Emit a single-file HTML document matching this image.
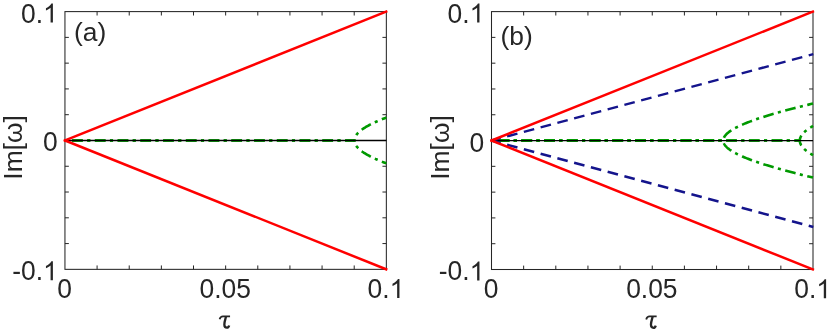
<!DOCTYPE html>
<html><head><meta charset="utf-8"><style>
html,body{margin:0;padding:0;background:#fff;}
svg{display:block;will-change:transform;}
text{font-family:"Liberation Sans",sans-serif;font-size:26.4px;fill:#262626;}
</style></head><body>
<svg width="831" height="331" viewBox="0 0 831 331">
<rect width="831" height="331" fill="#fff"/>
<rect x="64.95" y="11.6" width="321.40000000000003" height="257.75" fill="none" stroke="#262626" stroke-width="1.05"/>
<line x1="97.09" y1="269.35" x2="97.09" y2="265.45000000000005" stroke="#262626" stroke-width="1"/>
<line x1="97.09" y1="11.6" x2="97.09" y2="15.5" stroke="#262626" stroke-width="1"/>
<line x1="64.95" y1="37.38" x2="68.85000000000001" y2="37.38" stroke="#262626" stroke-width="1"/>
<line x1="386.35" y1="37.38" x2="382.45000000000005" y2="37.38" stroke="#262626" stroke-width="1"/>
<line x1="129.23" y1="269.35" x2="129.23" y2="265.45000000000005" stroke="#262626" stroke-width="1"/>
<line x1="129.23" y1="11.6" x2="129.23" y2="15.5" stroke="#262626" stroke-width="1"/>
<line x1="64.95" y1="63.15" x2="68.85000000000001" y2="63.15" stroke="#262626" stroke-width="1"/>
<line x1="386.35" y1="63.15" x2="382.45000000000005" y2="63.15" stroke="#262626" stroke-width="1"/>
<line x1="161.37" y1="269.35" x2="161.37" y2="265.45000000000005" stroke="#262626" stroke-width="1"/>
<line x1="161.37" y1="11.6" x2="161.37" y2="15.5" stroke="#262626" stroke-width="1"/>
<line x1="64.95" y1="88.92" x2="68.85000000000001" y2="88.92" stroke="#262626" stroke-width="1"/>
<line x1="386.35" y1="88.92" x2="382.45000000000005" y2="88.92" stroke="#262626" stroke-width="1"/>
<line x1="193.51" y1="269.35" x2="193.51" y2="265.45000000000005" stroke="#262626" stroke-width="1"/>
<line x1="193.51" y1="11.6" x2="193.51" y2="15.5" stroke="#262626" stroke-width="1"/>
<line x1="64.95" y1="114.70" x2="68.85000000000001" y2="114.70" stroke="#262626" stroke-width="1"/>
<line x1="386.35" y1="114.70" x2="382.45000000000005" y2="114.70" stroke="#262626" stroke-width="1"/>
<line x1="225.65" y1="269.35" x2="225.65" y2="265.45000000000005" stroke="#262626" stroke-width="1"/>
<line x1="225.65" y1="11.6" x2="225.65" y2="15.5" stroke="#262626" stroke-width="1"/>
<line x1="64.95" y1="140.47" x2="68.85000000000001" y2="140.47" stroke="#262626" stroke-width="1"/>
<line x1="386.35" y1="140.47" x2="382.45000000000005" y2="140.47" stroke="#262626" stroke-width="1"/>
<line x1="257.79" y1="269.35" x2="257.79" y2="265.45000000000005" stroke="#262626" stroke-width="1"/>
<line x1="257.79" y1="11.6" x2="257.79" y2="15.5" stroke="#262626" stroke-width="1"/>
<line x1="64.95" y1="166.25" x2="68.85000000000001" y2="166.25" stroke="#262626" stroke-width="1"/>
<line x1="386.35" y1="166.25" x2="382.45000000000005" y2="166.25" stroke="#262626" stroke-width="1"/>
<line x1="289.93" y1="269.35" x2="289.93" y2="265.45000000000005" stroke="#262626" stroke-width="1"/>
<line x1="289.93" y1="11.6" x2="289.93" y2="15.5" stroke="#262626" stroke-width="1"/>
<line x1="64.95" y1="192.03" x2="68.85000000000001" y2="192.03" stroke="#262626" stroke-width="1"/>
<line x1="386.35" y1="192.03" x2="382.45000000000005" y2="192.03" stroke="#262626" stroke-width="1"/>
<line x1="322.07" y1="269.35" x2="322.07" y2="265.45000000000005" stroke="#262626" stroke-width="1"/>
<line x1="322.07" y1="11.6" x2="322.07" y2="15.5" stroke="#262626" stroke-width="1"/>
<line x1="64.95" y1="217.80" x2="68.85000000000001" y2="217.80" stroke="#262626" stroke-width="1"/>
<line x1="386.35" y1="217.80" x2="382.45000000000005" y2="217.80" stroke="#262626" stroke-width="1"/>
<line x1="354.21" y1="269.35" x2="354.21" y2="265.45000000000005" stroke="#262626" stroke-width="1"/>
<line x1="354.21" y1="11.6" x2="354.21" y2="15.5" stroke="#262626" stroke-width="1"/>
<line x1="64.95" y1="243.57" x2="68.85000000000001" y2="243.57" stroke="#262626" stroke-width="1"/>
<line x1="386.35" y1="243.57" x2="382.45000000000005" y2="243.57" stroke="#262626" stroke-width="1"/>
<path d="M64.95,140.48 L354.43,140.48 L354.44,140.20 L354.45,139.92 L354.48,139.64 L354.51,139.36 L354.56,139.08 L354.61,138.80 L354.68,138.52 L354.75,138.25 L354.84,137.97 L354.93,137.69 L355.04,137.41 L355.15,137.13 L355.28,136.85 L355.41,136.57 L355.56,136.29 L355.71,136.01 L355.88,135.73 L356.05,135.45 L356.24,135.17 L356.43,134.89 L356.63,134.61 L356.85,134.33 L357.07,134.05 L357.31,133.77 L357.55,133.49 L357.81,133.21 L358.07,132.93 L358.34,132.65 L358.63,132.36 L358.92,132.08 L359.23,131.80 L359.54,131.52 L359.87,131.24 L360.20,130.95 L360.54,130.67 L360.90,130.39 L361.26,130.10 L361.64,129.82 L362.02,129.54 L362.41,129.25 L362.82,128.97 L363.23,128.68 L363.66,128.40 L364.09,128.11 L364.53,127.83 L364.99,127.54 L365.45,127.25 L365.92,126.97 L366.41,126.68 L366.90,126.39 L367.41,126.10 L367.92,125.82 L368.44,125.53 L368.98,125.24 L369.52,124.95 L370.07,124.66 L370.64,124.37 L371.21,124.08 L371.79,123.79 L372.39,123.50 L372.99,123.21 L373.60,122.91 L374.23,122.62 L374.86,122.33 L375.50,122.03 L376.16,121.74 L376.82,121.45 L377.49,121.15 L378.18,120.86 L378.87,120.56 L379.57,120.26 L380.29,119.97 L381.01,119.67 L381.74,119.37 L382.49,119.07 L383.24,118.78 L384.00,118.48 L384.77,118.18 L385.56,117.88 L386.35,117.58" stroke="#009900" stroke-width="2.6" fill="none" stroke-linejoin="round" stroke-dasharray="10.7 4.4 3.1 4.55" stroke-dashoffset="15.6"/>
<path d="M64.95,140.48 L354.43,140.48 L354.44,140.75 L354.45,141.03 L354.48,141.31 L354.51,141.59 L354.56,141.87 L354.61,142.15 L354.68,142.43 L354.75,142.70 L354.84,142.98 L354.93,143.26 L355.04,143.54 L355.15,143.82 L355.28,144.10 L355.41,144.38 L355.56,144.66 L355.71,144.94 L355.88,145.22 L356.05,145.50 L356.24,145.78 L356.43,146.06 L356.63,146.34 L356.85,146.62 L357.07,146.90 L357.31,147.18 L357.55,147.46 L357.81,147.74 L358.07,148.02 L358.34,148.30 L358.63,148.59 L358.92,148.87 L359.23,149.15 L359.54,149.43 L359.87,149.71 L360.20,150.00 L360.54,150.28 L360.90,150.56 L361.26,150.85 L361.64,151.13 L362.02,151.41 L362.41,151.70 L362.82,151.98 L363.23,152.27 L363.66,152.55 L364.09,152.84 L364.53,153.12 L364.99,153.41 L365.45,153.70 L365.92,153.98 L366.41,154.27 L366.90,154.56 L367.41,154.85 L367.92,155.13 L368.44,155.42 L368.98,155.71 L369.52,156.00 L370.07,156.29 L370.64,156.58 L371.21,156.87 L371.79,157.16 L372.39,157.45 L372.99,157.74 L373.60,158.04 L374.23,158.33 L374.86,158.62 L375.50,158.92 L376.16,159.21 L376.82,159.50 L377.49,159.80 L378.18,160.09 L378.87,160.39 L379.57,160.69 L380.29,160.98 L381.01,161.28 L381.74,161.58 L382.49,161.88 L383.24,162.17 L384.00,162.47 L384.77,162.77 L385.56,163.07 L386.35,163.38" stroke="#009900" stroke-width="2.6" fill="none" stroke-linejoin="round" stroke-dasharray="10.7 4.4 3.1 4.55" stroke-dashoffset="15.6"/>
<line x1="64.95" y1="140.47500000000002" x2="386.35" y2="140.47500000000002" stroke="#000" stroke-width="1.3"/>
<line x1="63.85" y1="140.92" x2="387.35" y2="11.20" stroke="#ff0000" stroke-width="2.5"/>
<line x1="63.85" y1="140.03" x2="387.35" y2="269.75" stroke="#ff0000" stroke-width="2.5"/>
<text transform="translate(21.05,22.55) scale(1,1.04)">0.</text>
<path transform="translate(43.07,22.55) scale(0.012891,-0.012891)" d="M763 0H583V1147Q518 1085 412.5 1023Q307 961 223 930V1104Q374 1175 487 1276Q600 1377 647 1472H763Z" fill="#262626"/>
<text transform="translate(43.07,151.43) scale(1,1.04)">0</text>
<text transform="translate(12.26,280.30) scale(1,1.04)">-0.</text>
<path transform="translate(43.07,280.30) scale(0.012891,-0.012891)" d="M763 0H583V1147Q518 1085 412.5 1023Q307 961 223 930V1104Q374 1175 487 1276Q600 1377 647 1472H763Z" fill="#262626"/>
<text transform="translate(57.21,298.05) scale(1,1.04)">0</text>
<text transform="translate(199.56,298.05) scale(1,1.04)">0.05</text>
<text transform="translate(367.60,298.05) scale(1,1.04)">0.</text>
<path transform="translate(389.62,298.05) scale(0.012891,-0.012891)" d="M763 0H583V1147Q518 1085 412.5 1023Q307 961 223 930V1104Q374 1175 487 1276Q600 1377 647 1472H763Z" fill="#262626"/>
<g transform="translate(225.65,269.35)" fill="none" stroke="#262626" stroke-linecap="butt" stroke-linejoin="round"><path d="M-6.05,49.9 C-5.5,47.9 -4.4,46.95 -2.7,46.95 L4.4,46.95" stroke-width="1.8"/><path d="M0.4,47.1 C-0.3,49.7 -1.3,52.7 -1.3,55.1 C-1.3,57.5 0,58.3 1.2,58.3 C2.5,58.3 3.2,57.3 3.5,56.1" stroke-width="2.3"/></g>
<text x="73.95" y="40.90">(a)</text>
<text transform="translate(22.35,147.38) rotate(-90)" text-anchor="middle">Im[ω]</text>
<rect x="491.5" y="11.6" width="321.5" height="257.9" fill="none" stroke="#262626" stroke-width="1.05"/>
<line x1="523.65" y1="269.5" x2="523.65" y2="265.6" stroke="#262626" stroke-width="1"/>
<line x1="523.65" y1="11.6" x2="523.65" y2="15.5" stroke="#262626" stroke-width="1"/>
<line x1="491.5" y1="37.39" x2="495.4" y2="37.39" stroke="#262626" stroke-width="1"/>
<line x1="813.0" y1="37.39" x2="809.1" y2="37.39" stroke="#262626" stroke-width="1"/>
<line x1="555.80" y1="269.5" x2="555.80" y2="265.6" stroke="#262626" stroke-width="1"/>
<line x1="555.80" y1="11.6" x2="555.80" y2="15.5" stroke="#262626" stroke-width="1"/>
<line x1="491.5" y1="63.18" x2="495.4" y2="63.18" stroke="#262626" stroke-width="1"/>
<line x1="813.0" y1="63.18" x2="809.1" y2="63.18" stroke="#262626" stroke-width="1"/>
<line x1="587.95" y1="269.5" x2="587.95" y2="265.6" stroke="#262626" stroke-width="1"/>
<line x1="587.95" y1="11.6" x2="587.95" y2="15.5" stroke="#262626" stroke-width="1"/>
<line x1="491.5" y1="88.97" x2="495.4" y2="88.97" stroke="#262626" stroke-width="1"/>
<line x1="813.0" y1="88.97" x2="809.1" y2="88.97" stroke="#262626" stroke-width="1"/>
<line x1="620.10" y1="269.5" x2="620.10" y2="265.6" stroke="#262626" stroke-width="1"/>
<line x1="620.10" y1="11.6" x2="620.10" y2="15.5" stroke="#262626" stroke-width="1"/>
<line x1="491.5" y1="114.76" x2="495.4" y2="114.76" stroke="#262626" stroke-width="1"/>
<line x1="813.0" y1="114.76" x2="809.1" y2="114.76" stroke="#262626" stroke-width="1"/>
<line x1="652.25" y1="269.5" x2="652.25" y2="265.6" stroke="#262626" stroke-width="1"/>
<line x1="652.25" y1="11.6" x2="652.25" y2="15.5" stroke="#262626" stroke-width="1"/>
<line x1="491.5" y1="140.55" x2="495.4" y2="140.55" stroke="#262626" stroke-width="1"/>
<line x1="813.0" y1="140.55" x2="809.1" y2="140.55" stroke="#262626" stroke-width="1"/>
<line x1="684.40" y1="269.5" x2="684.40" y2="265.6" stroke="#262626" stroke-width="1"/>
<line x1="684.40" y1="11.6" x2="684.40" y2="15.5" stroke="#262626" stroke-width="1"/>
<line x1="491.5" y1="166.34" x2="495.4" y2="166.34" stroke="#262626" stroke-width="1"/>
<line x1="813.0" y1="166.34" x2="809.1" y2="166.34" stroke="#262626" stroke-width="1"/>
<line x1="716.55" y1="269.5" x2="716.55" y2="265.6" stroke="#262626" stroke-width="1"/>
<line x1="716.55" y1="11.6" x2="716.55" y2="15.5" stroke="#262626" stroke-width="1"/>
<line x1="491.5" y1="192.13" x2="495.4" y2="192.13" stroke="#262626" stroke-width="1"/>
<line x1="813.0" y1="192.13" x2="809.1" y2="192.13" stroke="#262626" stroke-width="1"/>
<line x1="748.70" y1="269.5" x2="748.70" y2="265.6" stroke="#262626" stroke-width="1"/>
<line x1="748.70" y1="11.6" x2="748.70" y2="15.5" stroke="#262626" stroke-width="1"/>
<line x1="491.5" y1="217.92" x2="495.4" y2="217.92" stroke="#262626" stroke-width="1"/>
<line x1="813.0" y1="217.92" x2="809.1" y2="217.92" stroke="#262626" stroke-width="1"/>
<line x1="780.85" y1="269.5" x2="780.85" y2="265.6" stroke="#262626" stroke-width="1"/>
<line x1="780.85" y1="11.6" x2="780.85" y2="15.5" stroke="#262626" stroke-width="1"/>
<line x1="491.5" y1="243.71" x2="495.4" y2="243.71" stroke="#262626" stroke-width="1"/>
<line x1="813.0" y1="243.71" x2="809.1" y2="243.71" stroke="#262626" stroke-width="1"/>
<path d="M491.50,140.55 L723.30,140.55 L723.32,140.13 L723.36,139.70 L723.43,139.28 L723.53,138.86 L723.65,138.43 L723.81,138.01 L723.99,137.58 L724.20,137.16 L724.44,136.74 L724.70,136.31 L725.00,135.88 L725.32,135.46 L725.67,135.03 L726.05,134.61 L726.45,134.18 L726.89,133.75 L727.35,133.32 L727.84,132.89 L728.36,132.46 L728.91,132.03 L729.48,131.60 L730.08,131.17 L730.72,130.74 L731.37,130.30 L732.06,129.87 L732.78,129.43 L733.52,128.99 L734.29,128.56 L735.09,128.12 L735.92,127.68 L736.77,127.24 L737.65,126.79 L738.56,126.35 L739.50,125.91 L740.47,125.46 L741.47,125.01 L742.49,124.57 L743.54,124.12 L744.62,123.66 L745.73,123.21 L746.86,122.76 L748.02,122.30 L749.22,121.84 L750.44,121.39 L751.68,120.92 L752.96,120.46 L754.26,120.00 L755.59,119.53 L756.95,119.07 L758.34,118.60 L759.76,118.13 L761.20,117.65 L762.67,117.18 L764.17,116.70 L765.70,116.22 L767.25,115.74 L768.84,115.26 L770.45,114.78 L772.09,114.29 L773.76,113.80 L775.45,113.31 L777.18,112.82 L778.93,112.32 L780.71,111.83 L782.52,111.33 L784.35,110.83 L786.22,110.32 L788.11,109.82 L790.03,109.31 L791.98,108.80 L793.95,108.28 L795.96,107.77 L797.99,107.25 L800.05,106.73 L802.14,106.20 L804.25,105.68 L806.40,105.15 L808.57,104.62 L810.77,104.09 L813.00,103.55" stroke="#009900" stroke-width="2.6" fill="none" stroke-linejoin="round" stroke-dasharray="10.7 4.4 3.1 4.55" stroke-dashoffset="15.6"/>
<path d="M491.50,140.55 L723.30,140.55 L723.32,140.97 L723.36,141.40 L723.43,141.82 L723.53,142.24 L723.65,142.67 L723.81,143.09 L723.99,143.52 L724.20,143.94 L724.44,144.36 L724.70,144.79 L725.00,145.22 L725.32,145.64 L725.67,146.07 L726.05,146.49 L726.45,146.92 L726.89,147.35 L727.35,147.78 L727.84,148.21 L728.36,148.64 L728.91,149.07 L729.48,149.50 L730.08,149.93 L730.72,150.36 L731.37,150.80 L732.06,151.23 L732.78,151.67 L733.52,152.11 L734.29,152.54 L735.09,152.98 L735.92,153.42 L736.77,153.86 L737.65,154.31 L738.56,154.75 L739.50,155.19 L740.47,155.64 L741.47,156.09 L742.49,156.53 L743.54,156.98 L744.62,157.44 L745.73,157.89 L746.86,158.34 L748.02,158.80 L749.22,159.26 L750.44,159.71 L751.68,160.18 L752.96,160.64 L754.26,161.10 L755.59,161.57 L756.95,162.03 L758.34,162.50 L759.76,162.97 L761.20,163.45 L762.67,163.92 L764.17,164.40 L765.70,164.88 L767.25,165.36 L768.84,165.84 L770.45,166.32 L772.09,166.81 L773.76,167.30 L775.45,167.79 L777.18,168.28 L778.93,168.78 L780.71,169.27 L782.52,169.77 L784.35,170.27 L786.22,170.78 L788.11,171.28 L790.03,171.79 L791.98,172.30 L793.95,172.82 L795.96,173.33 L797.99,173.85 L800.05,174.37 L802.14,174.90 L804.25,175.42 L806.40,175.95 L808.57,176.48 L810.77,177.01 L813.00,177.55" stroke="#009900" stroke-width="2.6" fill="none" stroke-linejoin="round" stroke-dasharray="10.7 4.4 3.1 4.55" stroke-dashoffset="15.6"/>
<path d="M491.50,140.55 L799.82,140.55 L799.82,140.37 L799.83,140.19 L799.84,140.01 L799.85,139.83 L799.87,139.65 L799.89,139.47 L799.92,139.29 L799.95,139.11 L799.99,138.92 L800.02,138.74 L800.07,138.56 L800.12,138.38 L800.17,138.20 L800.22,138.02 L800.28,137.84 L800.35,137.66 L800.41,137.48 L800.49,137.30 L800.56,137.12 L800.64,136.94 L800.73,136.76 L800.82,136.57 L800.91,136.39 L801.00,136.21 L801.11,136.03 L801.21,135.85 L801.32,135.67 L801.43,135.49 L801.55,135.31 L801.67,135.12 L801.80,134.94 L801.93,134.76 L802.06,134.58 L802.20,134.40 L802.34,134.22 L802.49,134.04 L802.64,133.85 L802.79,133.67 L802.95,133.49 L803.11,133.31 L803.28,133.13 L803.45,132.94 L803.63,132.76 L803.81,132.58 L803.99,132.40 L804.18,132.21 L804.37,132.03 L804.56,131.85 L804.76,131.67 L804.97,131.48 L805.18,131.30 L805.39,131.12 L805.60,130.93 L805.82,130.75 L806.05,130.57 L806.28,130.38 L806.51,130.20 L806.75,130.02 L806.99,129.83 L807.23,129.65 L807.48,129.47 L807.74,129.28 L807.99,129.10 L808.25,128.91 L808.52,128.73 L808.79,128.55 L809.06,128.36 L809.34,128.18 L809.62,127.99 L809.91,127.81 L810.20,127.62 L810.50,127.44 L810.79,127.25 L811.10,127.07 L811.40,126.88 L811.71,126.69 L812.03,126.51 L812.35,126.32 L812.67,126.14 L813.00,125.95" stroke="#009900" stroke-width="2.6" fill="none" stroke-linejoin="round" stroke-dasharray="10.7 4.4 3.1 4.55" stroke-dashoffset="15.6"/>
<path d="M491.50,140.55 L799.82,140.55 L799.82,140.73 L799.83,140.91 L799.84,141.09 L799.85,141.27 L799.87,141.45 L799.89,141.63 L799.92,141.81 L799.95,141.99 L799.99,142.18 L800.02,142.36 L800.07,142.54 L800.12,142.72 L800.17,142.90 L800.22,143.08 L800.28,143.26 L800.35,143.44 L800.41,143.62 L800.49,143.80 L800.56,143.98 L800.64,144.16 L800.73,144.34 L800.82,144.53 L800.91,144.71 L801.00,144.89 L801.11,145.07 L801.21,145.25 L801.32,145.43 L801.43,145.61 L801.55,145.79 L801.67,145.98 L801.80,146.16 L801.93,146.34 L802.06,146.52 L802.20,146.70 L802.34,146.88 L802.49,147.06 L802.64,147.25 L802.79,147.43 L802.95,147.61 L803.11,147.79 L803.28,147.97 L803.45,148.16 L803.63,148.34 L803.81,148.52 L803.99,148.70 L804.18,148.89 L804.37,149.07 L804.56,149.25 L804.76,149.43 L804.97,149.62 L805.18,149.80 L805.39,149.98 L805.60,150.17 L805.82,150.35 L806.05,150.53 L806.28,150.72 L806.51,150.90 L806.75,151.08 L806.99,151.27 L807.23,151.45 L807.48,151.63 L807.74,151.82 L807.99,152.00 L808.25,152.19 L808.52,152.37 L808.79,152.55 L809.06,152.74 L809.34,152.92 L809.62,153.11 L809.91,153.29 L810.20,153.48 L810.50,153.66 L810.79,153.85 L811.10,154.03 L811.40,154.22 L811.71,154.41 L812.03,154.59 L812.35,154.78 L812.67,154.96 L813.00,155.15" stroke="#009900" stroke-width="2.6" fill="none" stroke-linejoin="round" stroke-dasharray="10.7 4.4 3.1 4.55" stroke-dashoffset="15.6"/>
<line x1="491.5" y1="140.55" x2="813.0" y2="140.55" stroke="#000" stroke-width="1.3"/>
<line x1="491.5" y1="140.55" x2="813.3" y2="54.15" stroke="#14148c" stroke-width="2.45" stroke-dasharray="10.7 6.65" stroke-dashoffset="1.2"/>
<line x1="491.5" y1="140.55" x2="813.3" y2="226.95" stroke="#14148c" stroke-width="2.45" stroke-dasharray="10.7 6.65" stroke-dashoffset="1.2"/>
<line x1="490.4" y1="140.99" x2="814.0" y2="11.20" stroke="#ff0000" stroke-width="2.5"/>
<line x1="490.4" y1="140.11" x2="814.0" y2="269.90" stroke="#ff0000" stroke-width="2.5"/>
<text transform="translate(447.60,22.55) scale(1,1.04)">0.</text>
<path transform="translate(469.62,22.55) scale(0.012891,-0.012891)" d="M763 0H583V1147Q518 1085 412.5 1023Q307 961 223 930V1104Q374 1175 487 1276Q600 1377 647 1472H763Z" fill="#262626"/>
<text transform="translate(469.62,151.50) scale(1,1.04)">0</text>
<text transform="translate(438.81,280.45) scale(1,1.04)">-0.</text>
<path transform="translate(469.62,280.45) scale(0.012891,-0.012891)" d="M763 0H583V1147Q518 1085 412.5 1023Q307 961 223 930V1104Q374 1175 487 1276Q600 1377 647 1472H763Z" fill="#262626"/>
<text transform="translate(483.76,298.20) scale(1,1.04)">0</text>
<text transform="translate(626.16,298.20) scale(1,1.04)">0.05</text>
<text transform="translate(794.25,298.20) scale(1,1.04)">0.</text>
<path transform="translate(816.27,298.20) scale(0.012891,-0.012891)" d="M763 0H583V1147Q518 1085 412.5 1023Q307 961 223 930V1104Q374 1175 487 1276Q600 1377 647 1472H763Z" fill="#262626"/>
<g transform="translate(652.25,269.50)" fill="none" stroke="#262626" stroke-linecap="butt" stroke-linejoin="round"><path d="M-6.05,49.9 C-5.5,47.9 -4.4,46.95 -2.7,46.95 L4.4,46.95" stroke-width="1.8"/><path d="M0.4,47.1 C-0.3,49.7 -1.3,52.7 -1.3,55.1 C-1.3,57.5 0,58.3 1.2,58.3 C2.5,58.3 3.2,57.3 3.5,56.1" stroke-width="2.3"/></g>
<text x="500.50" y="44.50">(b)</text>
<text transform="translate(448.90,147.45) rotate(-90)" text-anchor="middle">Im[ω]</text>
</svg>
</body></html>
